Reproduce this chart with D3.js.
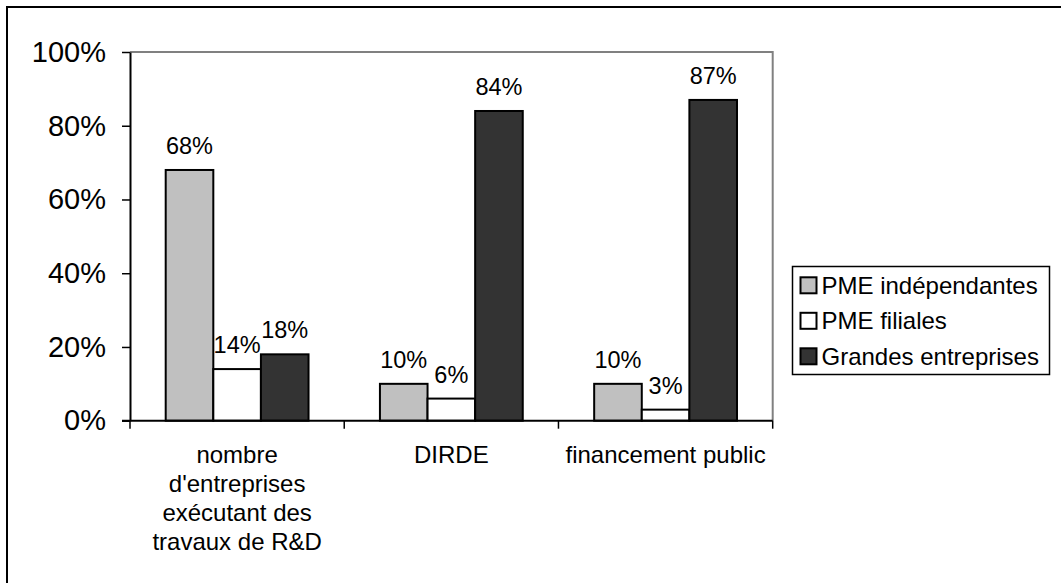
<!DOCTYPE html>
<html>
<head>
<meta charset="utf-8">
<script src="https://cdn.jsdelivr.net/npm/d3@7"></script>
<style>
  body { margin: 0; background: #fff; }
  svg text { font-family: "Liberation Sans", Arial, sans-serif; fill: #000; }
</style>
</head>
<body>
<svg id="chart" width="1061" height="583"></svg>
<script>
// chart data
const categories = ["nombre d'entreprises exécutant des travaux de R&D", "DIRDE", "financement public"];
const seriesNames = ["PME indépendantes", "PME filiales", "Grandes entreprises"];
const pmeIndependantes = [68, 10, 10];
const pmeFiliales = [14, 6, 3];
const grandesEntreprises = [18, 84, 87];
const yTicks = [0, 20, 40, 60, 80, 100];
const seriesColors = ["#c0c0c0", "#ffffff", "#333333"];

const seriesValues = [pmeIndependantes, pmeFiliales, grandesEntreprises];

let svg = d3.select("#chart");

// outer chart frame (only top/left edges fall inside the picture)
svg.append("rect")
   .attr("x", 7).attr("y", 7)
   .attr("width", 1200).attr("height", 800)
   .attr("fill", "none")
   .attr("stroke", "#000")
   .attr("stroke-width", 2);

let plot = {left: 130, right: 772.7, top: 52, bottom: 420.7};

let x = d3.scaleBand()
    .domain(categories)
    .range([plot.left, plot.right])
    .paddingInner(0)
    .paddingOuter(0);

let xs = d3.scaleBand()
    .domain(seriesNames)
    .range([0, x.bandwidth()])
    .paddingInner(0)
    .paddingOuter(0.75);

let y = d3.scaleLinear()
    .domain([0, 100])
    .range([plot.bottom, plot.top]);

// plot area border (gray top and right)
svg.append("path")
   .attr("d", `M${plot.left},${plot.top}H${plot.right}V${plot.bottom}`)
   .attr("fill", "none")
   .attr("stroke", "#808080")
   .attr("stroke-width", 2);

// bars
let rows = [];
categories.forEach((c, i) => {
    seriesNames.forEach((s, j) => {
        rows.push({cat: c, series: s, value: seriesValues[j][i], color: seriesColors[j]});
    });
});

svg.append("g").selectAll("rect")
   .data(rows)
   .join("rect")
   .attr("x", d => x(d.cat) + xs(d.series))
   .attr("y", d => y(d.value))
   .attr("width", xs.bandwidth())
   .attr("height", d => y(0) - y(d.value))
   .attr("fill", d => d.color)
   .attr("stroke", "#000")
   .attr("stroke-width", 2);

// data labels
svg.append("g").selectAll("text")
   .data(rows)
   .join("text")
   .attr("x", d => x(d.cat) + xs(d.series) + xs.bandwidth() / 2)
   .attr("y", d => y(d.value) - 16)
   .attr("text-anchor", "middle")
   .style("font-size", "23.5px")
   .text(d => d.value + "%");

// y axis
let yAxis = svg.append("g")
   .attr("transform", `translate(${plot.left},0)`)
   .call(d3.axisLeft(y)
           .tickValues(yTicks)
           .tickFormat(d => d + "%")
           .tickSize(8)
           .tickSizeOuter(0)
           .tickPadding(16));
yAxis.select(".domain").attr("stroke", "#000").attr("stroke-width", 2);
yAxis.selectAll(".tick line").attr("stroke", "#000").attr("stroke-width", 1.5);
yAxis.selectAll(".tick text")
     .style("font-size", "29px")
     .style("font-family", "'Liberation Sans', Arial, sans-serif");

// x axis line and ticks at category boundaries
svg.append("line")
   .attr("x1", plot.left - 8).attr("x2", plot.right)
   .attr("y1", y(0)).attr("y2", y(0))
   .attr("stroke", "#000")
   .attr("stroke-width", 2);

let bounds = categories.map(c => x(c)).concat([plot.right]);
svg.append("g").selectAll("line")
   .data(bounds)
   .join("line")
   .attr("x1", d => d).attr("x2", d => d)
   .attr("y1", y(0)).attr("y2", y(0) + 8)
   .attr("stroke", "#000")
   .attr("stroke-width", 1.5);

// category labels, wrapped to the band width
let catLabels = svg.append("g").selectAll("text")
   .data(categories)
   .join("text")
   .attr("x", d => x(d) + x.bandwidth() / 2)
   .attr("y", y(0) + 42)
   .attr("text-anchor", "middle")
   .style("font-size", "24px")
   .text(d => d);

function wrap(text, width) {
    text.each(function() {
        let text = d3.select(this),
            words = text.text().split(/\s+/).reverse(),
            word,
            line = [],
            lineHeight = 29, // px
            cx = text.attr("x"),
            tspan = text.text(null).append("tspan").attr("x", cx).attr("dy", 0);
        while (word = words.pop()) {
            line.push(word);
            tspan.text(line.join(" "));
            if (tspan.node().getComputedTextLength() > width && line.length > 1) {
                line.pop();
                tspan.text(line.join(" "));
                line = [word];
                tspan = text.append("tspan").attr("x", cx).attr("dy", lineHeight).text(word);
            }
        }
    });
}
catLabels.call(wrap, x.bandwidth() - 6);

// legend
let legend = svg.append("g").attr("transform", "translate(792.5,266.5)");
legend.append("rect")
      .attr("width", 257).attr("height", 108)
      .attr("fill", "#fff")
      .attr("stroke", "#000")
      .attr("stroke-width", 1.5);

let items = legend.selectAll("g")
      .data(seriesNames)
      .join("g")
      .attr("transform", (d, i) => `translate(0,${10.8 + i * 35.5})`);

items.append("rect")
     .attr("x", 8).attr("y", 0)
     .attr("width", 16).attr("height", 16)
     .attr("fill", (d, i) => seriesColors[i])
     .attr("stroke", "#000")
     .attr("stroke-width", 2);

items.append("text")
     .attr("x", 29).attr("y", 8)
     .attr("dy", "0.35em")
     .style("font-size", "24px")
     .text(d => d);
</script>
</body>
</html>
